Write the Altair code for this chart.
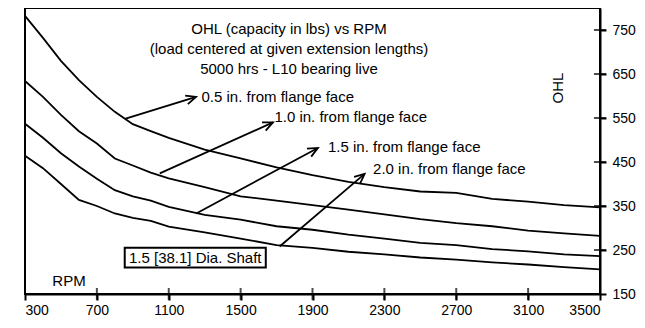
import math
import altair as alt
import pandas as pd

# ---------------- data ----------------
rpm = [300, 400, 500, 600, 700, 800, 900, 1000, 1100, 1300, 1500, 1700,
       1900, 2100, 2300, 2500, 2700, 2900, 3100, 3300, 3500]
ohl_05 = [782, 732, 680, 636, 598, 564, 536, 520, 505, 478, 458, 438,
          420, 405, 393, 383, 380, 366, 360, 352, 347]
ohl_10 = [634, 598, 557, 520, 492, 458, 442, 426, 413, 393, 372, 362,
          352, 342, 331, 320, 311, 304, 294, 288, 282]
ohl_15 = [537, 505, 470, 440, 412, 386, 372, 362, 348, 330, 319, 304,
          296, 285, 276, 266, 261, 252, 247, 240, 236]
ohl_20 = [464, 436, 400, 364, 350, 333, 323, 316, 303, 290, 276, 261,
          255, 246, 240, 233, 228, 222, 217, 211, 206]
series_names = ["0.5 in.", "1.0 in.", "1.5 in.", "2.0 in."]

x_ticks = [300, 700, 1100, 1500, 1900, 2300, 2700, 3100, 3500]
y_ticks = [150, 250, 350, 450, 550, 650, 750]

title_lines = ["OHL (capacity in lbs) vs RPM",
               "(load centered at given extension lengths)",
               "5000 hrs - L10 bearing live"]
title_x = [1769, 1769, 1769]
title_y = [752, 707, 661]

label_text = ["0.5 in. from flange face", "1.0 in. from flange face",
              "1.5 in. from flange face", "2.0 in. from flange face"]
label_x = [1282, 1688, 1986, 2237]
label_y = [598, 553, 484, 434]

arrow_x1 = [856, 1050, 1253, 1717]
arrow_y1 = [548, 424, 333, 258]
arrow_x2 = [1252, 1680, 1930, 2190]
arrow_y2 = [598, 540, 482, 423]

box_text = "1.5 [38.1] Dia. Shaft"
box_x = [855, 1640]
box_y = [210, 255]

# ---------------- layout ----------------
W, H = 575, 286
x_dom = [300, 3500]
y_dom = [150, 800]
FONT = "Liberation Sans"
FS = 15

rows = []
for name, vals in zip(series_names, [ohl_05, ohl_10, ohl_15, ohl_20]):
    for r, v in zip(rpm, vals):
        rows.append({"series": name, "rpm": r, "ohl": v})
df = pd.DataFrame(rows)

xs = alt.Scale(domain=x_dom, nice=False, zero=False)
ys = alt.Scale(domain=y_dom, nice=False, zero=False)

x_axis = alt.Axis(values=x_ticks, title=None, grid=False, orient="bottom",
                  labelPadding=3, format="d")
y_axis = alt.Axis(values=y_ticks, title=None, grid=False, orient="right",
                  labelPadding=6, format="d")

lines = alt.Chart(df).mark_line(color="black", strokeWidth=1.8).encode(
    x=alt.X("rpm:Q", scale=xs, axis=x_axis),
    y=alt.Y("ohl:Q", scale=ys, axis=y_axis),
    detail="series:N",
)

# inward halves of the crossing ticks
xt = alt.Chart(pd.DataFrame({"v": x_ticks[1:-1]})).mark_tick(
    orient="vertical", size=12, thickness=2, color="black"
).encode(x=alt.X("v:Q", scale=xs), y=alt.datum(150, scale=ys))
yt = alt.Chart(pd.DataFrame({"v": y_ticks[1:]})).mark_tick(
    orient="horizontal", size=12, thickness=2, color="black"
).encode(y=alt.Y("v:Q", scale=ys), x=alt.datum(3500, scale=xs))

# arrows
angles = []
for a, b, c, d in zip(arrow_x1, arrow_y1, arrow_x2, arrow_y2):
    dx = (c - a) * W / (x_dom[1] - x_dom[0])
    dy = -(d - b) * H / (y_dom[1] - y_dom[0])
    angles.append(math.degrees(math.atan2(dy, dx)) % 360)
adf = pd.DataFrame({"x1": arrow_x1, "y1": arrow_y1, "x2": arrow_x2,
                    "y2": arrow_y2, "ang": angles})
shafts = alt.Chart(adf).mark_rule(color="black", strokeWidth=1.8).encode(
    x=alt.X("x1:Q", scale=xs), y=alt.Y("y1:Q", scale=ys), x2="x2:Q", y2="y2:Q"
)
heads = alt.Chart(adf).mark_point(
    shape="M-1,-0.45L0,0L-1,0.45", size=400, filled=False, color="black",
    strokeWidth=1.8, opacity=1
).encode(
    x=alt.X("x2:Q", scale=xs), y=alt.Y("y2:Q", scale=ys),
    angle=alt.Angle("ang:Q", scale=None),
)

# texts
tdf = pd.DataFrame({"t": title_lines, "x": title_x, "y": title_y})
titles = alt.Chart(tdf).mark_text(
    font=FONT, fontSize=FS, color="black", align="center", baseline="middle"
).encode(x=alt.X("x:Q", scale=xs), y=alt.Y("y:Q", scale=ys), text="t:N")

ldf = pd.DataFrame({"t": label_text, "x": label_x, "y": label_y})
labels = alt.Chart(ldf).mark_text(
    font=FONT, fontSize=FS, color="black", align="left", baseline="middle"
).encode(x=alt.X("x:Q", scale=xs), y=alt.Y("y:Q", scale=ys), text="t:N")

bdf = pd.DataFrame({"x": [box_x[0]], "x2": [box_x[1]], "y": [box_y[0]],
                    "y2": [box_y[1]], "t": [box_text],
                    "cx": [sum(box_x) / 2], "cy": [sum(box_y) / 2]})
box = alt.Chart(bdf).mark_rect(fill="white", stroke="black", strokeWidth=2).encode(
    x=alt.X("x:Q", scale=xs), x2="x2:Q", y=alt.Y("y:Q", scale=ys), y2="y2:Q"
)
box_lbl = alt.Chart(bdf).mark_text(
    font=FONT, fontSize=FS, color="black", align="center", baseline="middle"
).encode(x=alt.X("cx:Q", scale=xs), y=alt.Y("cy:Q", scale=ys), text="t:N")

odf = pd.DataFrame({"t": ["RPM", "OHL"], "x": [545, 3266], "y": [180, 618],
                    "ang": [0, 270]})
axis_words = alt.Chart(odf).mark_text(
    font=FONT, fontSize=FS, color="black", align="center", baseline="middle"
).encode(x=alt.X("x:Q", scale=xs), y=alt.Y("y:Q", scale=ys), text="t:N",
         angle=alt.Angle("ang:Q", scale=None))

chart = alt.layer(
    lines, shafts, heads, box, box_lbl, titles, labels, axis_words, xt, yt
).properties(
    width=W, height=H,
    padding={"left": 13, "top": 0, "right": 0, "bottom": 0},
    background="white",
).configure_view(
    stroke="black", strokeWidth=2
).configure_axis(
    domainColor="black", domainWidth=2, tickColor="black", tickWidth=2,
    tickSize=6, labelFont=FONT, labelFontSize=14, labelColor="black",
)

chart.save("out.html", embed_options={"renderer": "svg", "actions": False})
